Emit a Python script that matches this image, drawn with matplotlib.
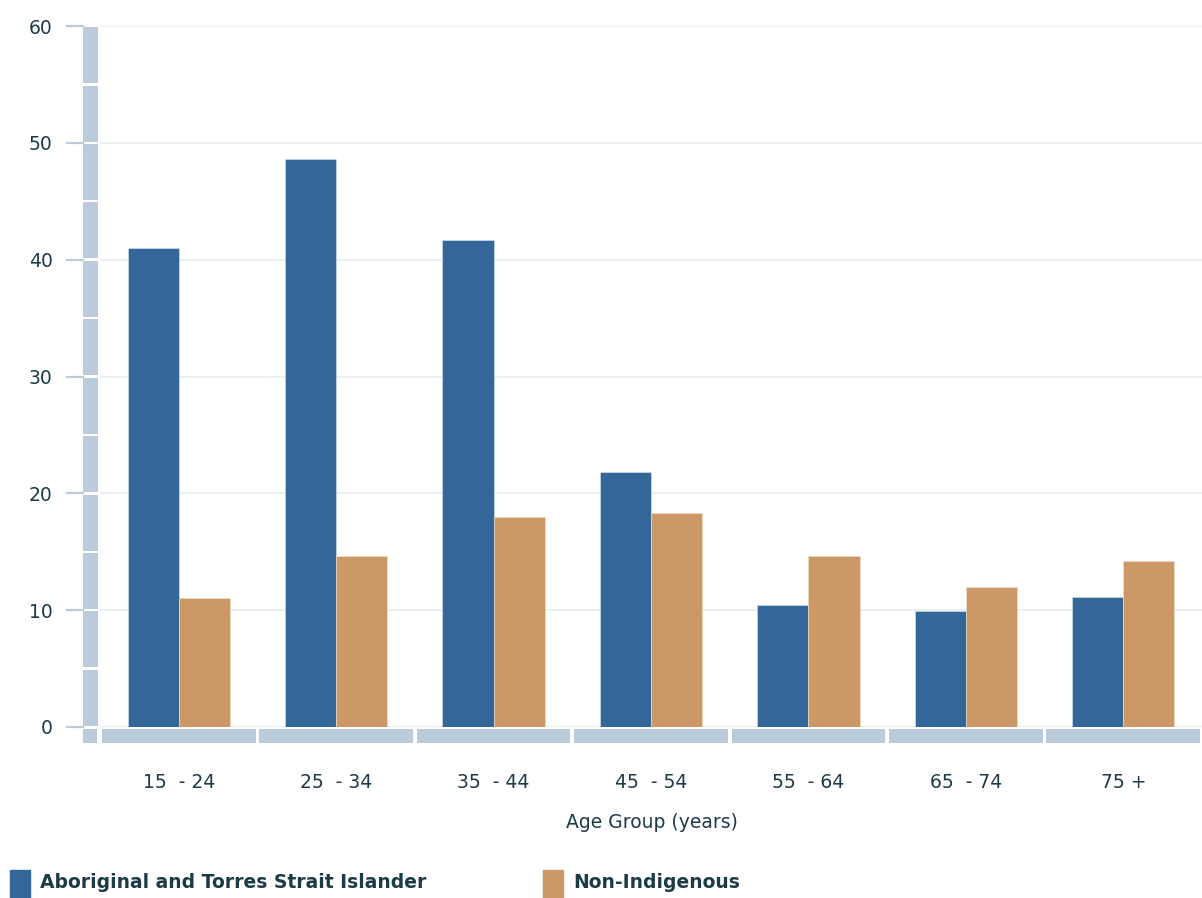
import matplotlib
matplotlib.use('Agg')
import matplotlib.pyplot as plt
from matplotlib.patches import Rectangle

# age groups and rates for each population
age_groups = ['15  - 24', '25  - 34', '35  - 44', '45  - 54', '55  - 64', '65  - 74', '75 +']
indigenous = [41.0, 48.6, 41.7, 21.8, 10.4, 9.9, 11.1]
non_indigenous = [11.0, 14.6, 18.0, 18.3, 14.6, 12.0, 14.2]
y_ticks = [0, 10, 20, 30, 40, 50, 60]

BLUE = '#336699'
ORANGE = '#cc9966'
STRIP = '#bccbdb'
TEXT = '#1c3b47'
W, H = 1202, 898
FS = 13.5

plt.rcParams['font.family'] = ['DejaVu Sans']
fig = plt.figure(figsize=(W / 100, H / 100), dpi=100)
ax = fig.add_axes([100 / W, 1 - 727 / H, 1102 / W, 701 / H])

x = list(range(len(age_groups)))
bw = 0.325
ax.bar([i - bw / 2 for i in x], indigenous, width=bw, color=BLUE, zorder=3,
       edgecolor='#dce6f0', linewidth=0.4)
ax.bar([i + bw / 2 for i in x], non_indigenous, width=bw, color=ORANGE, zorder=3,
       edgecolor='#f0e0cc', linewidth=0.4)

ax.set_xlim(-0.5, len(age_groups) - 0.5)
ax.set_ylim(0, 60)
for s in ax.spines.values():
    s.set_visible(False)
ax.set_yticks(y_ticks)
ax.yaxis.grid(True, color='#e9ecef', linewidth=1.2, zorder=0)
ax.tick_params(axis='y', length=0, pad=34, labelsize=FS, labelcolor=TEXT)
ax.set_xticks(x)
ax.set_xticklabels(age_groups)
ax.tick_params(axis='x', length=0, pad=33, labelsize=FS, labelcolor=TEXT)

# pixel -> data helpers for the decorative strips
px = lambda p: -0.5 + (p - 100) / 158.0
py = lambda p: (727 - p) / (701 / 60.0)

# vertical strip, split every 5 units
for k in range(12):
    ax.add_patch(Rectangle((px(83), k * 5 + 0.1), px(98) - px(83), 4.8,
                           color=STRIP, clip_on=False, zorder=4, linewidth=0))
# tick marks left of the strip
for t in y_ticks:
    ax.plot([px(67), px(83)], [t, t], color=STRIP, lw=1.6, clip_on=False, zorder=4)
# corner block and horizontal strip under each group
ax.add_patch(Rectangle((px(83), py(743)), px(97) - px(83), py(729) - py(743),
                       color=STRIP, clip_on=False, zorder=4, linewidth=0))
for i in x:
    ax.add_patch(Rectangle((i - 0.5 + 0.012, py(743)), 0.976, py(729) - py(743),
                           color=STRIP, clip_on=False, zorder=4, linewidth=0))

fig.text(652 / W, 1 - 822 / H, 'Age Group (years)', ha='center', va='center',
         fontsize=FS, color=TEXT)

# legend
for x0, col, label in [(10, BLUE, 'Aboriginal and Torres Strait Islander'),
                       (543, ORANGE, 'Non-Indigenous')]:
    fig.patches.append(Rectangle((x0 / W, 0), 20 / W, 28 / H, color=col,
                                 transform=fig.transFigure, figure=fig))
    fig.text((x0 + 30) / W, 1 - 882 / H, label, ha='left', va='center',
             fontsize=FS, fontweight='bold', color=TEXT)

fig.savefig('out.png', dpi=100)
